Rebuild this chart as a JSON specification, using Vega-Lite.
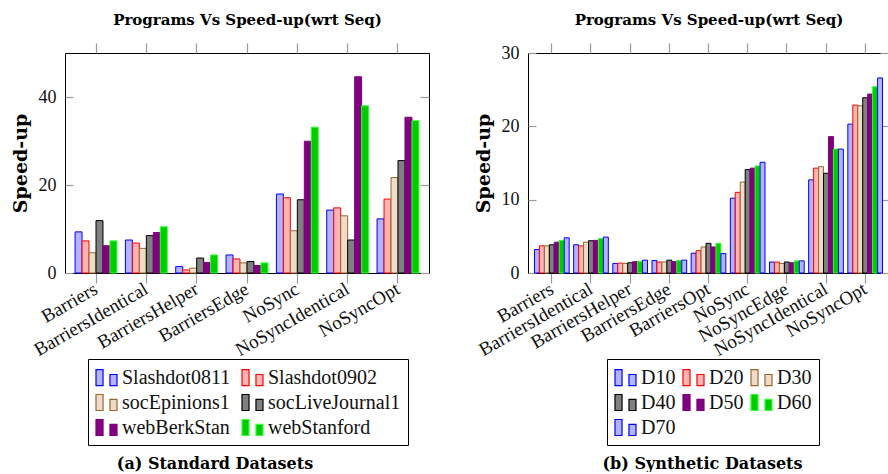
{
  "$schema": "https://vega.github.io/schema/vega-lite/v6.json",
  "padding": {"left": 10, "top": 11, "right": 0, "bottom": 0},
  "background": "white",
  "spacing": 42,
  "datasets": {
    "std": [
      {"program": "Barriers", "dataset": "Slashdot0811", "speedup": 9.35},
      {"program": "Barriers", "dataset": "Slashdot0902", "speedup": 7.3},
      {"program": "Barriers", "dataset": "socEpinions1", "speedup": 4.6},
      {"program": "Barriers", "dataset": "socLiveJournal1", "speedup": 11.9},
      {"program": "Barriers", "dataset": "webBerkStan", "speedup": 6.2},
      {"program": "Barriers", "dataset": "webStanford", "speedup": 7.3},
      {"program": "BarriersIdentical", "dataset": "Slashdot0811", "speedup": 7.5},
      {"program": "BarriersIdentical", "dataset": "Slashdot0902", "speedup": 6.8},
      {"program": "BarriersIdentical", "dataset": "socEpinions1", "speedup": 5.6},
      {"program": "BarriersIdentical", "dataset": "socLiveJournal1", "speedup": 8.5},
      {"program": "BarriersIdentical", "dataset": "webBerkStan", "speedup": 9.2},
      {"program": "BarriersIdentical", "dataset": "webStanford", "speedup": 10.5},
      {"program": "BarriersHelper", "dataset": "Slashdot0811", "speedup": 1.45},
      {"program": "BarriersHelper", "dataset": "Slashdot0902", "speedup": 0.7},
      {"program": "BarriersHelper", "dataset": "socEpinions1", "speedup": 1.1},
      {"program": "BarriersHelper", "dataset": "socLiveJournal1", "speedup": 3.4},
      {"program": "BarriersHelper", "dataset": "webBerkStan", "speedup": 2.4},
      {"program": "BarriersHelper", "dataset": "webStanford", "speedup": 4.1},
      {"program": "BarriersEdge", "dataset": "Slashdot0811", "speedup": 4.1},
      {"program": "BarriersEdge", "dataset": "Slashdot0902", "speedup": 3.2},
      {"program": "BarriersEdge", "dataset": "socEpinions1", "speedup": 2.3},
      {"program": "BarriersEdge", "dataset": "socLiveJournal1", "speedup": 2.6},
      {"program": "BarriersEdge", "dataset": "webBerkStan", "speedup": 1.7},
      {"program": "BarriersEdge", "dataset": "webStanford", "speedup": 2.3},
      {"program": "NoSync", "dataset": "Slashdot0811", "speedup": 17.95},
      {"program": "NoSync", "dataset": "Slashdot0902", "speedup": 17.1},
      {"program": "NoSync", "dataset": "socEpinions1", "speedup": 9.6},
      {"program": "NoSync", "dataset": "socLiveJournal1", "speedup": 16.65},
      {"program": "NoSync", "dataset": "webBerkStan", "speedup": 29.95},
      {"program": "NoSync", "dataset": "webStanford", "speedup": 33.15},
      {"program": "NoSyncIdentical", "dataset": "Slashdot0811", "speedup": 14.3},
      {"program": "NoSyncIdentical", "dataset": "Slashdot0902", "speedup": 14.8},
      {"program": "NoSyncIdentical", "dataset": "socEpinions1", "speedup": 13.0},
      {"program": "NoSyncIdentical", "dataset": "socLiveJournal1", "speedup": 7.5},
      {"program": "NoSyncIdentical", "dataset": "webBerkStan", "speedup": 44.6},
      {"program": "NoSyncIdentical", "dataset": "webStanford", "speedup": 38.0},
      {"program": "NoSyncOpt", "dataset": "Slashdot0811", "speedup": 12.3},
      {"program": "NoSyncOpt", "dataset": "Slashdot0902", "speedup": 16.8},
      {"program": "NoSyncOpt", "dataset": "socEpinions1", "speedup": 21.7},
      {"program": "NoSyncOpt", "dataset": "socLiveJournal1", "speedup": 25.55},
      {"program": "NoSyncOpt", "dataset": "webBerkStan", "speedup": 35.4},
      {"program": "NoSyncOpt", "dataset": "webStanford", "speedup": 34.6}
    ],
    "syn": [
      {"program": "Barriers", "dataset": "D10", "speedup": 3.2},
      {"program": "Barriers", "dataset": "D20", "speedup": 3.7},
      {"program": "Barriers", "dataset": "D30", "speedup": 3.7},
      {"program": "Barriers", "dataset": "D40", "speedup": 3.85},
      {"program": "Barriers", "dataset": "D50", "speedup": 4.2},
      {"program": "Barriers", "dataset": "D60", "speedup": 4.45},
      {"program": "Barriers", "dataset": "D70", "speedup": 4.8},
      {"program": "BarriersIdentical", "dataset": "D10", "speedup": 3.85},
      {"program": "BarriersIdentical", "dataset": "D20", "speedup": 3.7},
      {"program": "BarriersIdentical", "dataset": "D30", "speedup": 4.2},
      {"program": "BarriersIdentical", "dataset": "D40", "speedup": 4.4},
      {"program": "BarriersIdentical", "dataset": "D50", "speedup": 4.45},
      {"program": "BarriersIdentical", "dataset": "D60", "speedup": 4.7},
      {"program": "BarriersIdentical", "dataset": "D70", "speedup": 4.9},
      {"program": "BarriersHelper", "dataset": "D10", "speedup": 1.3},
      {"program": "BarriersHelper", "dataset": "D20", "speedup": 1.35},
      {"program": "BarriersHelper", "dataset": "D30", "speedup": 1.3},
      {"program": "BarriersHelper", "dataset": "D40", "speedup": 1.4},
      {"program": "BarriersHelper", "dataset": "D50", "speedup": 1.55},
      {"program": "BarriersHelper", "dataset": "D60", "speedup": 1.6},
      {"program": "BarriersHelper", "dataset": "D70", "speedup": 1.75},
      {"program": "BarriersEdge", "dataset": "D10", "speedup": 1.7},
      {"program": "BarriersEdge", "dataset": "D20", "speedup": 1.5},
      {"program": "BarriersEdge", "dataset": "D30", "speedup": 1.5},
      {"program": "BarriersEdge", "dataset": "D40", "speedup": 1.75},
      {"program": "BarriersEdge", "dataset": "D50", "speedup": 1.55},
      {"program": "BarriersEdge", "dataset": "D60", "speedup": 1.7},
      {"program": "BarriersEdge", "dataset": "D70", "speedup": 1.75},
      {"program": "BarriersOpt", "dataset": "D10", "speedup": 2.7},
      {"program": "BarriersOpt", "dataset": "D20", "speedup": 3.05},
      {"program": "BarriersOpt", "dataset": "D30", "speedup": 3.55},
      {"program": "BarriersOpt", "dataset": "D40", "speedup": 4.05},
      {"program": "BarriersOpt", "dataset": "D50", "speedup": 3.55},
      {"program": "BarriersOpt", "dataset": "D60", "speedup": 4.05},
      {"program": "BarriersOpt", "dataset": "D70", "speedup": 2.65},
      {"program": "NoSync", "dataset": "D10", "speedup": 10.2},
      {"program": "NoSync", "dataset": "D20", "speedup": 11.0},
      {"program": "NoSync", "dataset": "D30", "speedup": 12.4},
      {"program": "NoSync", "dataset": "D40", "speedup": 14.1},
      {"program": "NoSync", "dataset": "D50", "speedup": 14.3},
      {"program": "NoSync", "dataset": "D60", "speedup": 14.6},
      {"program": "NoSync", "dataset": "D70", "speedup": 15.1},
      {"program": "NoSyncEdge", "dataset": "D10", "speedup": 1.5},
      {"program": "NoSyncEdge", "dataset": "D20", "speedup": 1.5},
      {"program": "NoSyncEdge", "dataset": "D30", "speedup": 1.3},
      {"program": "NoSyncEdge", "dataset": "D40", "speedup": 1.5},
      {"program": "NoSyncEdge", "dataset": "D50", "speedup": 1.4},
      {"program": "NoSyncEdge", "dataset": "D60", "speedup": 1.65},
      {"program": "NoSyncEdge", "dataset": "D70", "speedup": 1.65},
      {"program": "NoSyncIdentical", "dataset": "D10", "speedup": 12.7},
      {"program": "NoSyncIdentical", "dataset": "D20", "speedup": 14.3},
      {"program": "NoSyncIdentical", "dataset": "D30", "speedup": 14.5},
      {"program": "NoSyncIdentical", "dataset": "D40", "speedup": 13.6},
      {"program": "NoSyncIdentical", "dataset": "D50", "speedup": 18.6},
      {"program": "NoSyncIdentical", "dataset": "D60", "speedup": 16.9},
      {"program": "NoSyncIdentical", "dataset": "D70", "speedup": 16.9},
      {"program": "NoSyncOpt", "dataset": "D10", "speedup": 20.3},
      {"program": "NoSyncOpt", "dataset": "D20", "speedup": 22.9},
      {"program": "NoSyncOpt", "dataset": "D30", "speedup": 22.8},
      {"program": "NoSyncOpt", "dataset": "D40", "speedup": 23.9},
      {"program": "NoSyncOpt", "dataset": "D50", "speedup": 24.4},
      {"program": "NoSyncOpt", "dataset": "D60", "speedup": 25.4},
      {"program": "NoSyncOpt", "dataset": "D70", "speedup": 26.6}
    ]
  },
  "hconcat": [
    {
      "width": 364,
      "height": 220,
      "data": {"name": "std"},
      "title": {"text": "(a) Standard Datasets", "orient": "bottom", "anchor": "middle", "dx": -32, "offset": 10, "font": "DejaVu Serif", "fontWeight": "bold", "fontSize": 16, "color": "black"},
      "layer": [
        {
          "mark": {"type": "bar", "strokeWidth": 1},
          "encoding": {
            "x": {"field": "program", "type": "nominal", "sort": null,
              "scale": {"paddingInner": 0.168, "paddingOuter": 0.2},
              "axis": {"orient": "bottom", "title": null, "labelAngle": -30, "labelAlign": "right", "labelBaseline": "middle", "tickSize": 10, "labelPadding": 4, "domain": false}},
            "xOffset": {"field": "dataset", "type": "nominal", "sort": null, "scale": {"paddingInner": 0, "paddingOuter": 0}},
            "y": {"field": "speedup", "type": "quantitative", "stack": null,
              "scale": {"domain": [0, 50], "nice": false},
              "axis": {"title": "Speed-up", "values": [0, 20, 40], "tickSize": -8, "labelPadding": 17, "domain": false, "titlePadding": 8}},
            "fill": {"field": "dataset", "type": "nominal", "sort": null,
              "scale": {"domain": ["Slashdot0811", "Slashdot0902", "socEpinions1", "socLiveJournal1", "webBerkStan", "webStanford"],
                        "range": ["#b3b3ff", "#ffb3b3", "#eedcc8", "#808080", "#800080", "#00cc00"]},
              "legend": {"orient": "none", "legendX": 23, "legendY": 306, "columns": 2, "columnPadding": 8, "title": null, "direction": "horizontal"}},
            "stroke": {"field": "dataset", "type": "nominal", "sort": null,
              "scale": {"domain": ["Slashdot0811", "Slashdot0902", "socEpinions1", "socLiveJournal1", "webBerkStan", "webStanford"],
                        "range": ["#0000ff", "#ff0000", "#996633", "#000000", "#800080", "#33ff33"]},
              "legend": {"orient": "none", "legendX": 23, "legendY": 306, "columns": 2, "columnPadding": 8, "title": null, "direction": "horizontal"}}
          }
        },
        {
          "mark": {"type": "tick", "opacity": 0},
          "encoding": {
            "x": {"field": "program", "type": "nominal", "sort": null,
              "axis": {"orient": "top", "labels": false, "domain": false, "tickSize": 10, "title": "Programs Vs Speed-up(wrt Seq)", "titlePadding": 15}},
            "y": {"field": "speedup", "type": "quantitative", "stack": null,
              "axis": {"orient": "right", "labels": false, "domain": false, "title": null, "values": [0, 20, 40], "tickSize": -9}}
          }
        }
      ],
      "resolve": {"axis": {"x": "independent", "y": "independent"}}
    },
    {
      "width": 361,
      "height": 220,
      "data": {"name": "syn"},
      "title": {"text": "(b) Synthetic Datasets", "orient": "bottom", "anchor": "middle", "dx": -6, "offset": 10, "font": "DejaVu Serif", "fontWeight": "bold", "fontSize": 16, "color": "black"},
      "layer": [
        {
          "mark": {"type": "bar", "strokeWidth": 1},
          "encoding": {
            "x": {"field": "program", "type": "nominal", "sort": null,
              "scale": {"paddingInner": 0.114, "paddingOuter": 0.165},
              "axis": {"orient": "bottom", "title": null, "labelAngle": -30, "labelAlign": "right", "labelBaseline": "middle", "tickSize": 10, "labelPadding": 4, "domain": false}},
            "xOffset": {"field": "dataset", "type": "nominal", "sort": null, "scale": {"paddingInner": 0, "paddingOuter": 0}},
            "y": {"field": "speedup", "type": "quantitative", "stack": null,
              "scale": {"domain": [0, 30], "nice": false},
              "axis": {"title": "Speed-up", "values": [0, 10, 20, 30], "tickSize": -8, "labelPadding": 17, "domain": false, "titlePadding": 8}},
            "fill": {"field": "dataset", "type": "nominal", "sort": null,
              "scale": {"domain": ["D10", "D20", "D30", "D40", "D50", "D60", "D70"],
                        "range": ["#b3b3ff", "#ffb3b3", "#eedcc8", "#808080", "#800080", "#00cc00", "#b3b3ff"]},
              "legend": {"orient": "none", "legendX": 79, "legendY": 306, "columns": 3, "columnPadding": 4, "title": null, "direction": "horizontal"}},
            "stroke": {"field": "dataset", "type": "nominal", "sort": null,
              "scale": {"domain": ["D10", "D20", "D30", "D40", "D50", "D60", "D70"],
                        "range": ["#0000ff", "#ff0000", "#996633", "#000000", "#800080", "#33ff33", "#0000ff"]},
              "legend": {"orient": "none", "legendX": 79, "legendY": 306, "columns": 3, "columnPadding": 4, "title": null, "direction": "horizontal"}}
          }
        },
        {
          "mark": {"type": "tick", "opacity": 0},
          "encoding": {
            "x": {"field": "program", "type": "nominal", "sort": null,
              "axis": {"orient": "top", "labels": false, "domain": false, "tickSize": 10, "title": "Programs Vs Speed-up(wrt Seq)", "titlePadding": 15}},
            "y": {"field": "speedup", "type": "quantitative", "stack": null,
              "axis": {"orient": "right", "labels": false, "domain": false, "title": null, "values": [0, 10, 20, 30], "tickSize": -9}}
          }
        }
      ],
      "resolve": {"axis": {"x": "independent", "y": "independent"}}
    }
  ],
  "resolve": {
    "scale": {"x": "independent", "y": "independent", "xOffset": "independent", "fill": "independent", "stroke": "independent"},
    "legend": {"fill": "independent", "stroke": "independent"}
  },
  "config": {
    "view": {"stroke": "black", "strokeWidth": 1},
    "axis": {
      "grid": false,
      "labelFont": "Liberation Serif",
      "labelFontSize": 19,
      "labelColor": "#111",
      "tickColor": "#9a9a9a",
      "tickWidth": 1.2,
      "titleFont": "DejaVu Serif",
      "titleFontWeight": "bold",
      "titleColor": "black"
    },
    "axisX": {"titleFontSize": 15},
    "axisY": {"titleFontSize": 19, "labelFontSize": 18},
    "legend": {
      "labelFont": "Liberation Serif",
      "labelFontSize": 20,
      "labelColor": "#111",
      "labelOffset": 4,
      "symbolType": "M-1,-0.76H-0.33V0.76H-1Z M0.33,-0.29H1V0.76H0.33Z",
      "symbolSize": 441,
      "symbolStrokeWidth": 1.2,
      "rowPadding": 3,
      "padding": 7,
      "strokeColor": "black",
      "labelLimit": 300
    }
  }
}
